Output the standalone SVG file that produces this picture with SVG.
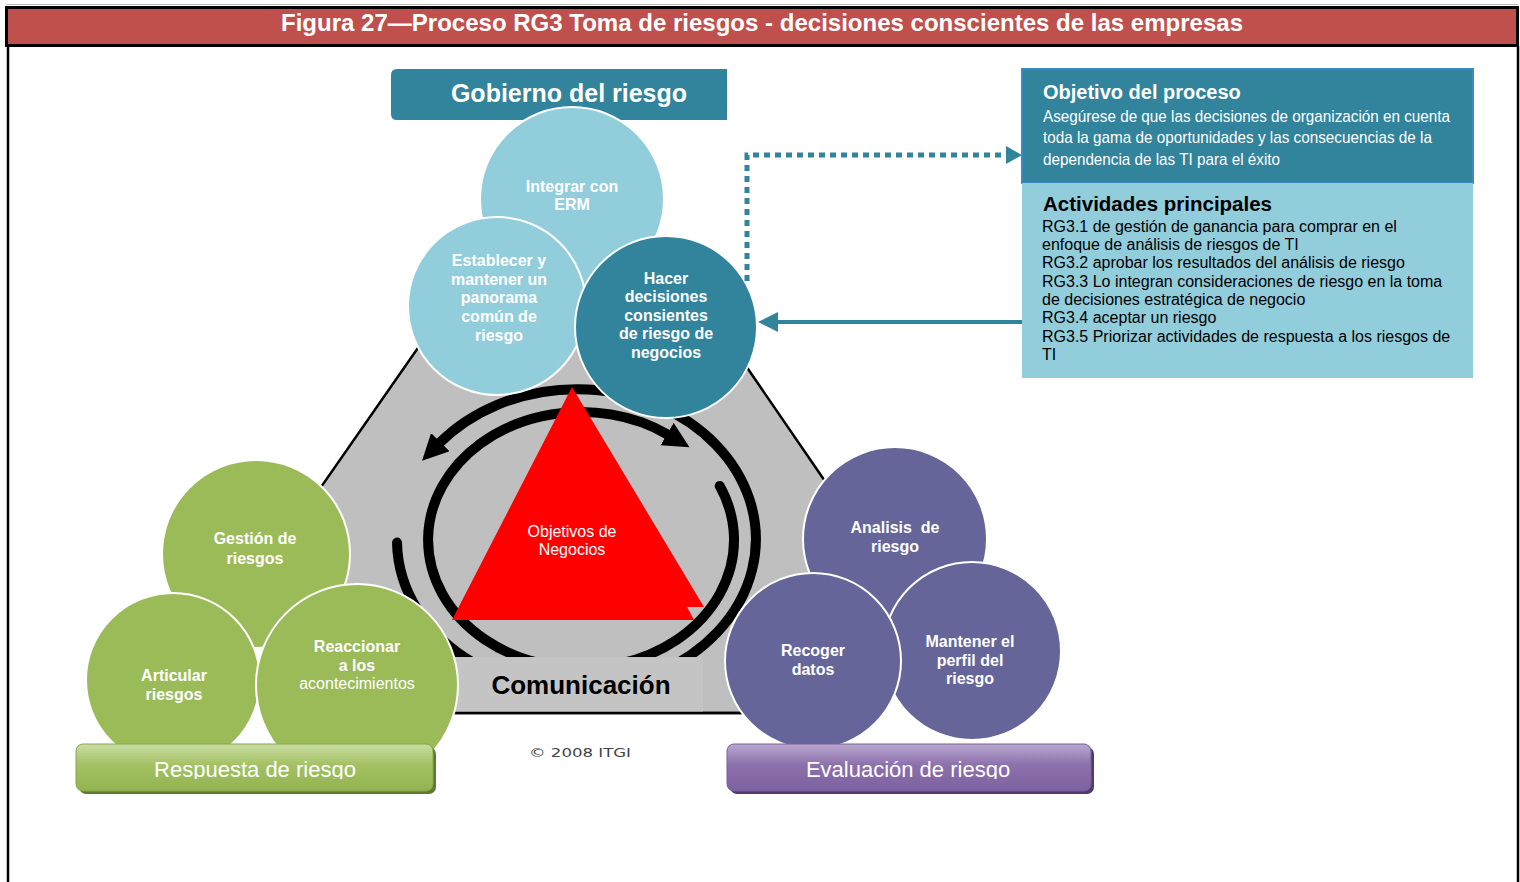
<svg xmlns="http://www.w3.org/2000/svg" width="1520" height="882" viewBox="0 0 1520 882">
<style>
  .ct{font-family:"Liberation Sans",Arial,sans-serif;font-size:16px;font-weight:bold;fill:#fff;text-anchor:middle}
  .ctr{font-family:"Liberation Sans",Arial,sans-serif;font-size:16px;fill:#fff;text-anchor:middle}
  .ring{fill:none;stroke:#000;stroke-width:10}
  .gob{fill:#92CDDC;stroke:#fff;stroke-width:2}
  .gobd{fill:#31849B;stroke:#fff;stroke-width:2}
  .grn{fill:#9BBB59;stroke:#fff;stroke-width:2}
  .pur{fill:#65659A;stroke:#fff;stroke-width:2}
  .act{font-family:"Liberation Sans",Arial,sans-serif;font-size:16px;fill:#000}
  .obj{font-family:"Liberation Sans Narrow","Liberation Sans",Arial,sans-serif;font-size:17px;fill:#fff}
</style>
<defs>
  <marker id="ah" markerUnits="userSpaceOnUse" markerWidth="30" markerHeight="30" refX="2" refY="13" orient="auto">
    <path d="M0,0 L26,13 L0,26 Z" fill="#000"/>
  </marker>
  <linearGradient id="gG" x1="0" y1="0" x2="0" y2="1">
    <stop offset="0" stop-color="#C9DDA3"/>
    <stop offset="0.45" stop-color="#A3C163"/>
    <stop offset="1" stop-color="#93B350"/>
  </linearGradient>
  <linearGradient id="gP" x1="0" y1="0" x2="0" y2="1">
    <stop offset="0" stop-color="#B9A8CF"/>
    <stop offset="0.45" stop-color="#8C70AC"/>
    <stop offset="1" stop-color="#7E62A0"/>
  </linearGradient>
  <clipPath id="clipR"><rect x="76" y="745" width="358" height="34"/></clipPath>
  <clipPath id="clipE"><rect x="727" y="745" width="365" height="34"/></clipPath>
</defs>

<rect width="1520" height="882" fill="#fff"/>

<g id="frame">
  <line x1="6" y1="4.5" x2="1518" y2="4.5" stroke="#bbb" stroke-width="1"/>
  <rect x="6.5" y="7.5" width="1511" height="38" fill="#C0504D" stroke="#000" stroke-width="3"/>
  <line x1="8" y1="46" x2="8" y2="882" stroke="#000" stroke-width="2.5"/>
  <line x1="1518" y1="46" x2="1518" y2="882" stroke="#000" stroke-width="2.5"/>
  <text x="281" y="31" font-family="Liberation Sans,Arial,sans-serif" font-size="24" font-weight="bold" fill="#fff" textLength="962" lengthAdjust="spacingAndGlyphs">Figura 27—Proceso RG3 Toma de riesgos - decisiones conscientes de las empresas</text>
</g>

<g id="hexagon">
  <polygon points="452,299 700,299 842,506 760,713 400,713 305,510" fill="#BFBFBF" stroke="#000" stroke-width="2.5"/>
</g>

<g id="rings">
  <path class="ring" d="M660,672 A179 150 0 1 0 438.9,443.6" marker-end="url(#ah)"/>
  <path class="ring" stroke-linecap="round" d="M397,542.6 A179 150 0 0 0 473.3,662.9"/>
  <path class="ring" d="M541.4,663.6 A153 128 0 1 1 668.8,435.1" marker-end="url(#ah)"/>
  <path class="ring" stroke-linecap="round" d="M719.7,485.9 A153 128 0 0 1 620.6,663.6"/>
</g>

<g id="comunicacion">
  <rect x="452" y="657" width="251" height="55" fill="#C4C4C4"/>
  <line x1="452" y1="713" x2="760" y2="713" stroke="#000" stroke-width="2.5"/>
  <text x="581" y="694" font-family="Liberation Sans,Arial,sans-serif" font-size="26" font-weight="bold" fill="#000" text-anchor="middle">Comunicación</text>
</g>

<g id="objetivos-negocios">
  <polygon points="572,387 704,607 687,607 694,620 452,620" fill="#FF0000"/>
  <text class="ctr" x="572" y="537">Objetivos de</text>
  <text class="ctr" x="572" y="555">Negocios</text>
</g>

<g id="gobierno-header">
  <path d="M397,69 H727 V120 H397 Q391,120 391,114 V75 Q391,69 397,69 Z" fill="#31849B"/>
  <text x="569" y="102" font-family="Liberation Sans,Arial,sans-serif" font-size="25" font-weight="bold" fill="#fff" text-anchor="middle">Gobierno del riesgo</text>
</g>

<g id="integrar">
  <circle class="gob" cx="572" cy="199" r="92"/>
  <text class="ct" x="572" y="191.5">Integrar con</text>
  <text class="ct" x="572" y="210">ERM</text>
</g>
<g id="establecer">
  <circle class="gob" cx="497" cy="306" r="89"/>
  <text class="ct" x="499" y="266">Establecer y</text>
  <text class="ct" x="499" y="285">mantener un</text>
  <text class="ct" x="499" y="303">panorama</text>
  <text class="ct" x="499" y="322">común de</text>
  <text class="ct" x="499" y="341">riesgo</text>
</g>
<g id="hacer">
  <circle class="gobd" cx="666" cy="327" r="91"/>
  <text class="ct" x="666" y="284">Hacer</text>
  <text class="ct" x="666" y="302">decisiones</text>
  <text class="ct" x="666" y="321">consientes</text>
  <text class="ct" x="666" y="339">de riesgo de</text>
  <text class="ct" x="666" y="358">negocios</text>
</g>

<g id="gestion">
  <circle class="grn" cx="256" cy="554" r="94"/>
  <text class="ct" x="255" y="544">Gestión de</text>
  <text class="ct" x="255" y="564">riesgos</text>
</g>
<g id="articular">
  <circle class="grn" cx="173" cy="680" r="87"/>
  <text class="ct" x="174" y="681">Articular</text>
  <text class="ct" x="174" y="700">riesgos</text>
</g>
<g id="reaccionar">
  <circle class="grn" cx="357" cy="685" r="101"/>
  <text class="ct" x="357" y="652">Reaccionar</text>
  <text class="ct" x="357" y="671">a los</text>
  <text class="ctr" x="357" y="689">acontecimientos</text>
</g>
<g id="respuesta">
  <rect x="79" y="747" width="357" height="47" rx="7" fill="#5E7A2E"/>
  <rect x="76" y="744" width="357" height="47" rx="7" fill="url(#gG)" stroke="#86A64A" stroke-width="1"/>
  <text x="255" y="777" clip-path="url(#clipR)" font-family="Liberation Sans,Arial,sans-serif" font-size="22" fill="#fff" text-anchor="middle">Respuesta de riesgo</text>
</g>

<g id="analisis">
  <circle class="pur" cx="895" cy="539" r="92"/>
  <text class="ct" x="895" y="533" style="white-space:pre">Analisis  de</text>
  <text class="ct" x="895" y="552">riesgo</text>
</g>
<g id="mantener">
  <circle class="pur" cx="972" cy="651" r="89"/>
  <text class="ct" x="970" y="647">Mantener el</text>
  <text class="ct" x="970" y="666">perfil del</text>
  <text class="ct" x="970" y="684">riesgo</text>
</g>
<g id="recoger">
  <circle class="pur" cx="813" cy="661" r="88"/>
  <text class="ct" x="813" y="656">Recoger</text>
  <text class="ct" x="813" y="675">datos</text>
</g>
<g id="evaluacion">
  <rect x="730" y="747" width="364" height="47" rx="7" fill="#4E3C6E"/>
  <rect x="727" y="744" width="364" height="47" rx="7" fill="url(#gP)" stroke="#7A5E9C" stroke-width="1"/>
  <text x="908" y="777" clip-path="url(#clipE)" font-family="Liberation Sans,Arial,sans-serif" font-size="22" fill="#fff" text-anchor="middle">Evaluación de riesgo</text>
</g>

<g id="copyright">
  <text x="529" y="757" font-family="DejaVu Sans,Verdana,sans-serif" font-size="13" fill="#444" textLength="102" lengthAdjust="spacingAndGlyphs">© 2008 ITGI</text>
</g>

<g id="objetivo-proceso">
  <rect x="1022" y="69" width="451" height="114" fill="#31849B" stroke="#3A8AC6" stroke-width="2"/>
  <text x="1043" y="99" font-family="Liberation Sans,Arial,sans-serif" font-size="20" font-weight="bold" fill="#fff">Objetivo del proceso</text>
  <text class="obj" x="1043" y="122" textLength="407" lengthAdjust="spacingAndGlyphs">Asegúrese de que las decisiones de organización en cuenta</text>
  <text class="obj" x="1043" y="143" textLength="389" lengthAdjust="spacingAndGlyphs">toda la gama de oportunidades y las consecuencias de la</text>
  <text class="obj" x="1043" y="165" textLength="237" lengthAdjust="spacingAndGlyphs">dependencia de las TI para el éxito</text>
</g>

<g id="actividades">
  <rect x="1022" y="183" width="451" height="195" fill="#92CDDC"/>
  <text x="1043" y="211" font-family="Liberation Sans,Arial,sans-serif" font-size="20.5" font-weight="bold" fill="#000">Actividades principales</text>
  <text class="act" x="1042" y="232">RG3.1 de gestión de ganancia para comprar en el</text>
  <text class="act" x="1042" y="250">enfoque de análisis de riesgos de TI</text>
  <text class="act" x="1042" y="268">RG3.2 aprobar los resultados del análisis de riesgo</text>
  <text class="act" x="1042" y="287">RG3.3 Lo integran consideraciones de riesgo en la toma</text>
  <text class="act" x="1042" y="305">de decisiones estratégica de negocio</text>
  <text class="act" x="1042" y="323">RG3.4 aceptar un riesgo</text>
  <text class="act" x="1042" y="342">RG3.5 Priorizar actividades de respuesta a los riesgos de</text>
  <text class="act" x="1042" y="360">TI</text>
</g>

<g id="connectors">
  <path d="M747,281 V155 H1008" fill="none" stroke="#31849B" stroke-width="5" stroke-dasharray="6 5"/>
  <polygon points="1022,155 1006,146 1006,164" fill="#31849B"/>
  <line x1="1022" y1="322" x2="775" y2="322" stroke="#31849B" stroke-width="4"/>
  <polygon points="758,322 778,312 778,332" fill="#31849B"/>
</g>
</svg>
